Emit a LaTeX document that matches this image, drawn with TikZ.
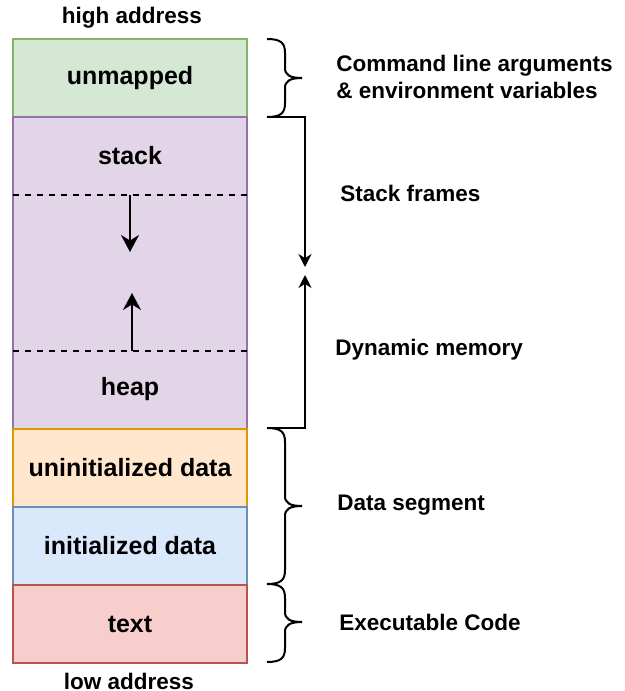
\documentclass[tikz,border=0pt]{standalone}
\usepackage{fontspec}
\setmainfont{Liberation Sans}
\usetikzlibrary{positioning}
\usetikzlibrary{arrows.meta}

\definecolor{unmapfill}{HTML}{D5E8D4}
\definecolor{unmapline}{HTML}{82B366}
\definecolor{dynfill}{HTML}{E1D5E7}
\definecolor{dynline}{HTML}{9673A6}
\definecolor{bssfill}{HTML}{FFE6CC}
\definecolor{bssline}{HTML}{D79B00}
\definecolor{datafill}{HTML}{DAE8FC}
\definecolor{dataline}{HTML}{6C8EBF}
\definecolor{textfill}{HTML}{F8CECC}
\definecolor{textline}{HTML}{B85450}

\tikzset{
  segment/.style={draw, line width=1pt, outer sep=0pt, inner sep=0pt,
    minimum width=117pt, minimum height=39pt,
    font=\fontsize{12.5}{15}\selectfont\bfseries},
  regionlabel/.style={inner sep=0pt, font=\fontsize{12.5}{15}\selectfont\bfseries},
  addr/.style={inner sep=0pt, font=\fontsize{11.25}{13.5}\selectfont\bfseries},
  sidelabel/.style={anchor=west, align=left, inner sep=0pt,
    font=\fontsize{11.25}{13.5}\selectfont\bfseries},
  bracket/.style={line width=1pt},
  growth/.style={line width=1pt, -{Stealth[length=8.5pt, width=9pt]}},
  boundary/.style={line width=0.75pt, dash pattern=on 3pt off 3pt}
}

% brace on the right: top y, tip y, bottom y
\newcommand{\rightbrace}[3]{%
  \draw[bracket] (267,#1) .. controls (281,#1) and (285,#1+4) .. (285,#1+14)
    -- (285,#2-10) .. controls (285,#2-3) and (290,#2) .. (302,#2)
    .. controls (290,#2) and (285,#2+3) .. (285,#2+10)
    -- (285,#3-14) .. controls (285,#3-4) and (281,#3) .. (267,#3);}

\begin{document}
\begin{tikzpicture}[x=0.5pt, y=-0.5pt]

\useasboundingbox (0,0) rectangle (625,691);

% segments
\node[segment, fill=unmapfill, draw=unmapline] (unmapped) at (130,78) {unmapped};
\node[segment, fill=dynfill, draw=dynline, minimum height=156pt, below=0pt of unmapped] (dynamic) {};
\node[segment, fill=bssfill, draw=bssline, below=0pt of dynamic] (bss) {uninitialized data};
\node[segment, fill=datafill, draw=dataline, below=0pt of bss] (data) {initialized data};
\node[segment, fill=textfill, draw=textline, below=0pt of data] (code) {text};

\node[addr] (high) at (132,18) {high address};
\node[addr] (low) at (129,681) {low address};

% stack / heap
\node[regionlabel] (stack) at (130,156) {stack};
\node[regionlabel] (heap) at (130,389) {heap};

\coordinate (stackedge) at (130,195);
\coordinate (stackend) at (130,252);
\coordinate (heapedge) at (132,351);
\coordinate (heapend) at (132,293);

\draw[boundary] (dynamic.west |- stackedge) -- (dynamic.east |- stackedge);
\draw[boundary] (dynamic.west |- heapedge) -- (dynamic.east |- heapedge);
\draw[growth] (stackedge) -- (stackend);
\draw[growth] (heapedge) -- (heapend);

% braces
\rightbrace{39}{78}{117}
\rightbrace{428}{506}{584}
\rightbrace{584}{622}{662}

\draw[bracket, -{Stealth[length=6.5pt, width=6.5pt]}] (267,117) -- (305,117) -- (305,267);
\draw[bracket, -{Stealth[length=6.5pt, width=6.5pt]}] (267,428) -- (305,428) -- (305,275);

% labels
\node[sidelabel] (args) at (336,77) {Command line arguments\\\& environment variables};
\node[sidelabel] (frames) at (340,193) {Stack frames};
\node[sidelabel] (dynmem) at (335,350) {Dynamic memory};
\node[sidelabel] (dataseg) at (337,505) {Data segment};
\node[sidelabel] (exec) at (339,622) {Executable Code};

\end{tikzpicture}
\end{document}
